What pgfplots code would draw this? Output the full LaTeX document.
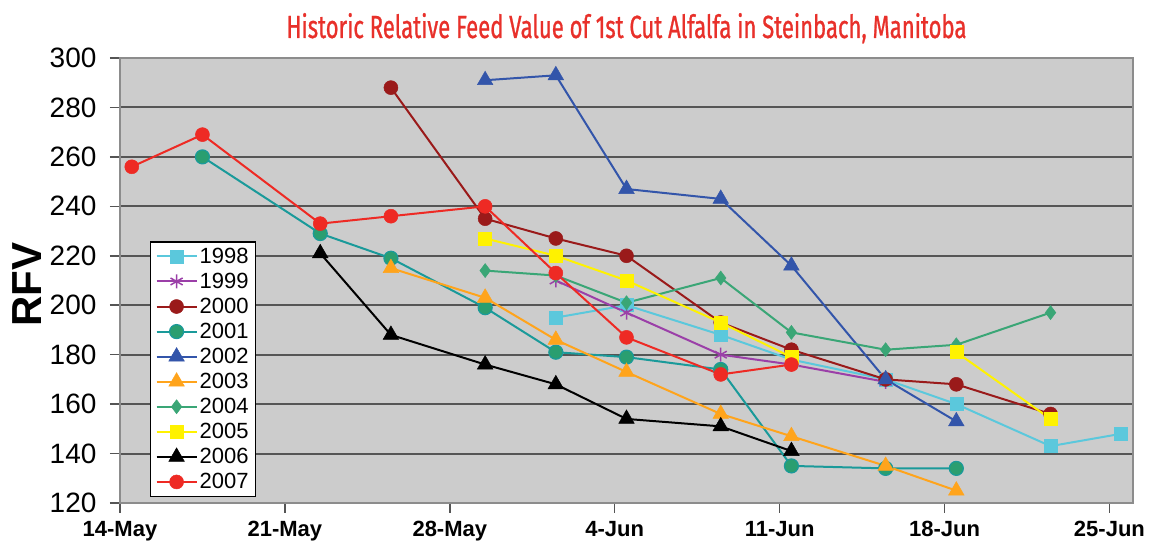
\documentclass[border=0pt]{standalone}
\usepackage{pgfplots}
\pgfplotsset{compat=1.18}
\usepackage{fontspec}
\setmainfont{Liberation Sans}
\newfontfamily\titlefont[FakeStretch=0.69, FakeBold=0.8]{Fira Sans}
\definecolor{bgc}{RGB}{204,204,204}
\definecolor{gridc}{RGB}{85,85,85}
\definecolor{framec}{RGB}{140,140,140}
\definecolor{c1998}{RGB}{91,200,220}
\definecolor{c1999}{RGB}{155,63,168}
\definecolor{c2000}{RGB}{154,26,26}
\definecolor{c2001}{RGB}{26,154,154}
\definecolor{c2001f}{RGB}{42,158,112}
\definecolor{c2002}{RGB}{51,85,170}
\definecolor{c2003}{RGB}{255,164,28}
\definecolor{c2004}{RGB}{58,166,118}
\definecolor{c2005}{RGB}{255,242,0}
\definecolor{c2006}{RGB}{0,0,0}
\definecolor{c2007}{RGB}{238,42,36}
\definecolor{titlec}{RGB}{232,48,42}
\begin{document}
\begin{tikzpicture}
\path[use as bounding box] (-120pt,-45pt) rectangle (1042pt,503pt);
\begin{axis}[
  scale only axis,
  width=1013pt, height=445pt,
  xmin=0, xmax=43, ymin=120, ymax=300,
  xtick={0,7,14,21,28,35,42},
  xticklabels={14-May,21-May,28-May,4-Jun,11-Jun,18-Jun,25-Jun},
  ytick={120,140,...,300},
  xtick pos=bottom, ytick pos=left,
  tick align=outside,
  major tick length=10pt,
  tick style={draw=gridc, line width=1.5pt},
  axis background/.style={fill=bgc},
  axis line style={draw=framec, line width=2pt},
  ymajorgrids,
  major grid style={draw=gridc, line width=2pt},
  /pgf/number format/assume math mode=true,
  yticklabel style={font=\fontsize{28}{28}\selectfont, xshift=-10pt},
  xticklabel style={font=\bfseries\fontsize{22}{22}\selectfont, yshift=-5pt},
  ylabel={\bfseries RFV},
  every axis y label/.style={at={(axis description cs:-0.092,0.49)}, rotate=90, anchor=center, font=\fontsize{42}{42}\selectfont},
  title={\titlefont\color{titlec}Historic Relative Feed Value of 1st Cut Alfalfa in Steinbach, Manitoba},
  title style={at={(axis description cs:0.5,1)}, anchor=base, yshift=14pt, font=\fontsize{32}{32}\selectfont},
  unbounded coords=jump,
  legend cell align=left,
  legend style={at={(0.0296,0.0135)}, anchor=south west, draw=black, line width=1.2pt, fill=white,
    font=\fontsize{22}{25}\selectfont, row sep=4.2pt, inner xsep=5pt, inner ysep=4pt},
  legend image code/.code={\draw[mark repeat=2,mark phase=2] plot coordinates {(0pt,0pt) (20pt,0pt) (40pt,0pt)};},
  every axis plot/.append style={line width=2pt},
]
\addplot[color=c1998, mark=square*, mark size=6.5pt, mark options={solid, line width=0.5pt}] coordinates {
(18.5,195) (21.5,200) (25.5,188) (28.5,178) (32.5,170) (35.5,160) (39.5,143) (42.5,148)};
\addlegendentry{1998}
\addplot[color=c1999, mark=asterisk, mark size=7pt, mark options={solid, line width=1.5pt}] coordinates {
(18.5,210) (21.5,197) (25.5,180) (28.5,176) (32.5,169)};
\addlegendentry{1999}
\addplot[color=c2000, mark=*, mark size=7pt, mark options={solid, line width=0.5pt}] coordinates {
(11.5,288) (15.5,235) (18.5,227) (21.5,220) (25.5,193) (28.5,182) (32.5,170) (35.5,168) (39.5,156)};
\addlegendentry{2000}
\addplot[color=c2001, mark=*, mark size=7pt, mark options={solid, fill=c2001f, draw=c2001, line width=1.2pt}] coordinates {
(3.5,260) (8.5,229) (11.5,219) (15.5,199) (18.5,181) (21.5,179) (25.5,174) (28.5,135) (32.5,134) (35.5,134)};
\addlegendentry{2001}
\addplot[color=c2002, mark=triangle*, mark size=9pt, mark options={solid, line width=0.5pt}] coordinates {
(15.5,291) (18.5,293) (21.5,247) (25.5,243) (28.5,216) (32.5,170) (35.5,153)};
\addlegendentry{2002}
\addplot[color=c2003, mark=triangle*, mark size=9pt, mark options={solid, line width=0.5pt}] coordinates {
(11.5,215) (15.5,203) (18.5,186) (21.5,173) (25.5,156) (28.5,147) (32.5,135) (35.5,125)};
\addlegendentry{2003}
\addplot[color=c2004, mark=diamond*, mark size=7pt, mark options={solid, line width=0.5pt}] coordinates {
(15.5,214) (18.5,212) (21.5,201) (25.5,211) (28.5,189) (32.5,182) (35.5,184) (39.5,197)};
\addlegendentry{2004}
\addplot[color=c2005, mark=square*, mark size=6.5pt, mark options={solid, line width=0.5pt}] coordinates {
(15.5,227) (18.5,220) (21.5,210) (25.5,193) (28.5,179) (32.5,nan) (35.5,181) (39.5,154)};
\addlegendentry{2005}
\addplot[color=c2006, mark=triangle*, mark size=9pt, mark options={solid, line width=0.5pt}] coordinates {
(8.5,221) (11.5,188) (15.5,176) (18.5,168) (21.5,154) (25.5,151) (28.5,141)};
\addlegendentry{2006}
\addplot[color=c2007, mark=*, mark size=7pt, mark options={solid, line width=0.5pt}] coordinates {
(0.5,256) (3.5,269) (8.5,233) (11.5,236) (15.5,240) (18.5,213) (21.5,187) (25.5,172) (28.5,176)};
\addlegendentry{2007}
\end{axis}
\end{tikzpicture}
\end{document}
